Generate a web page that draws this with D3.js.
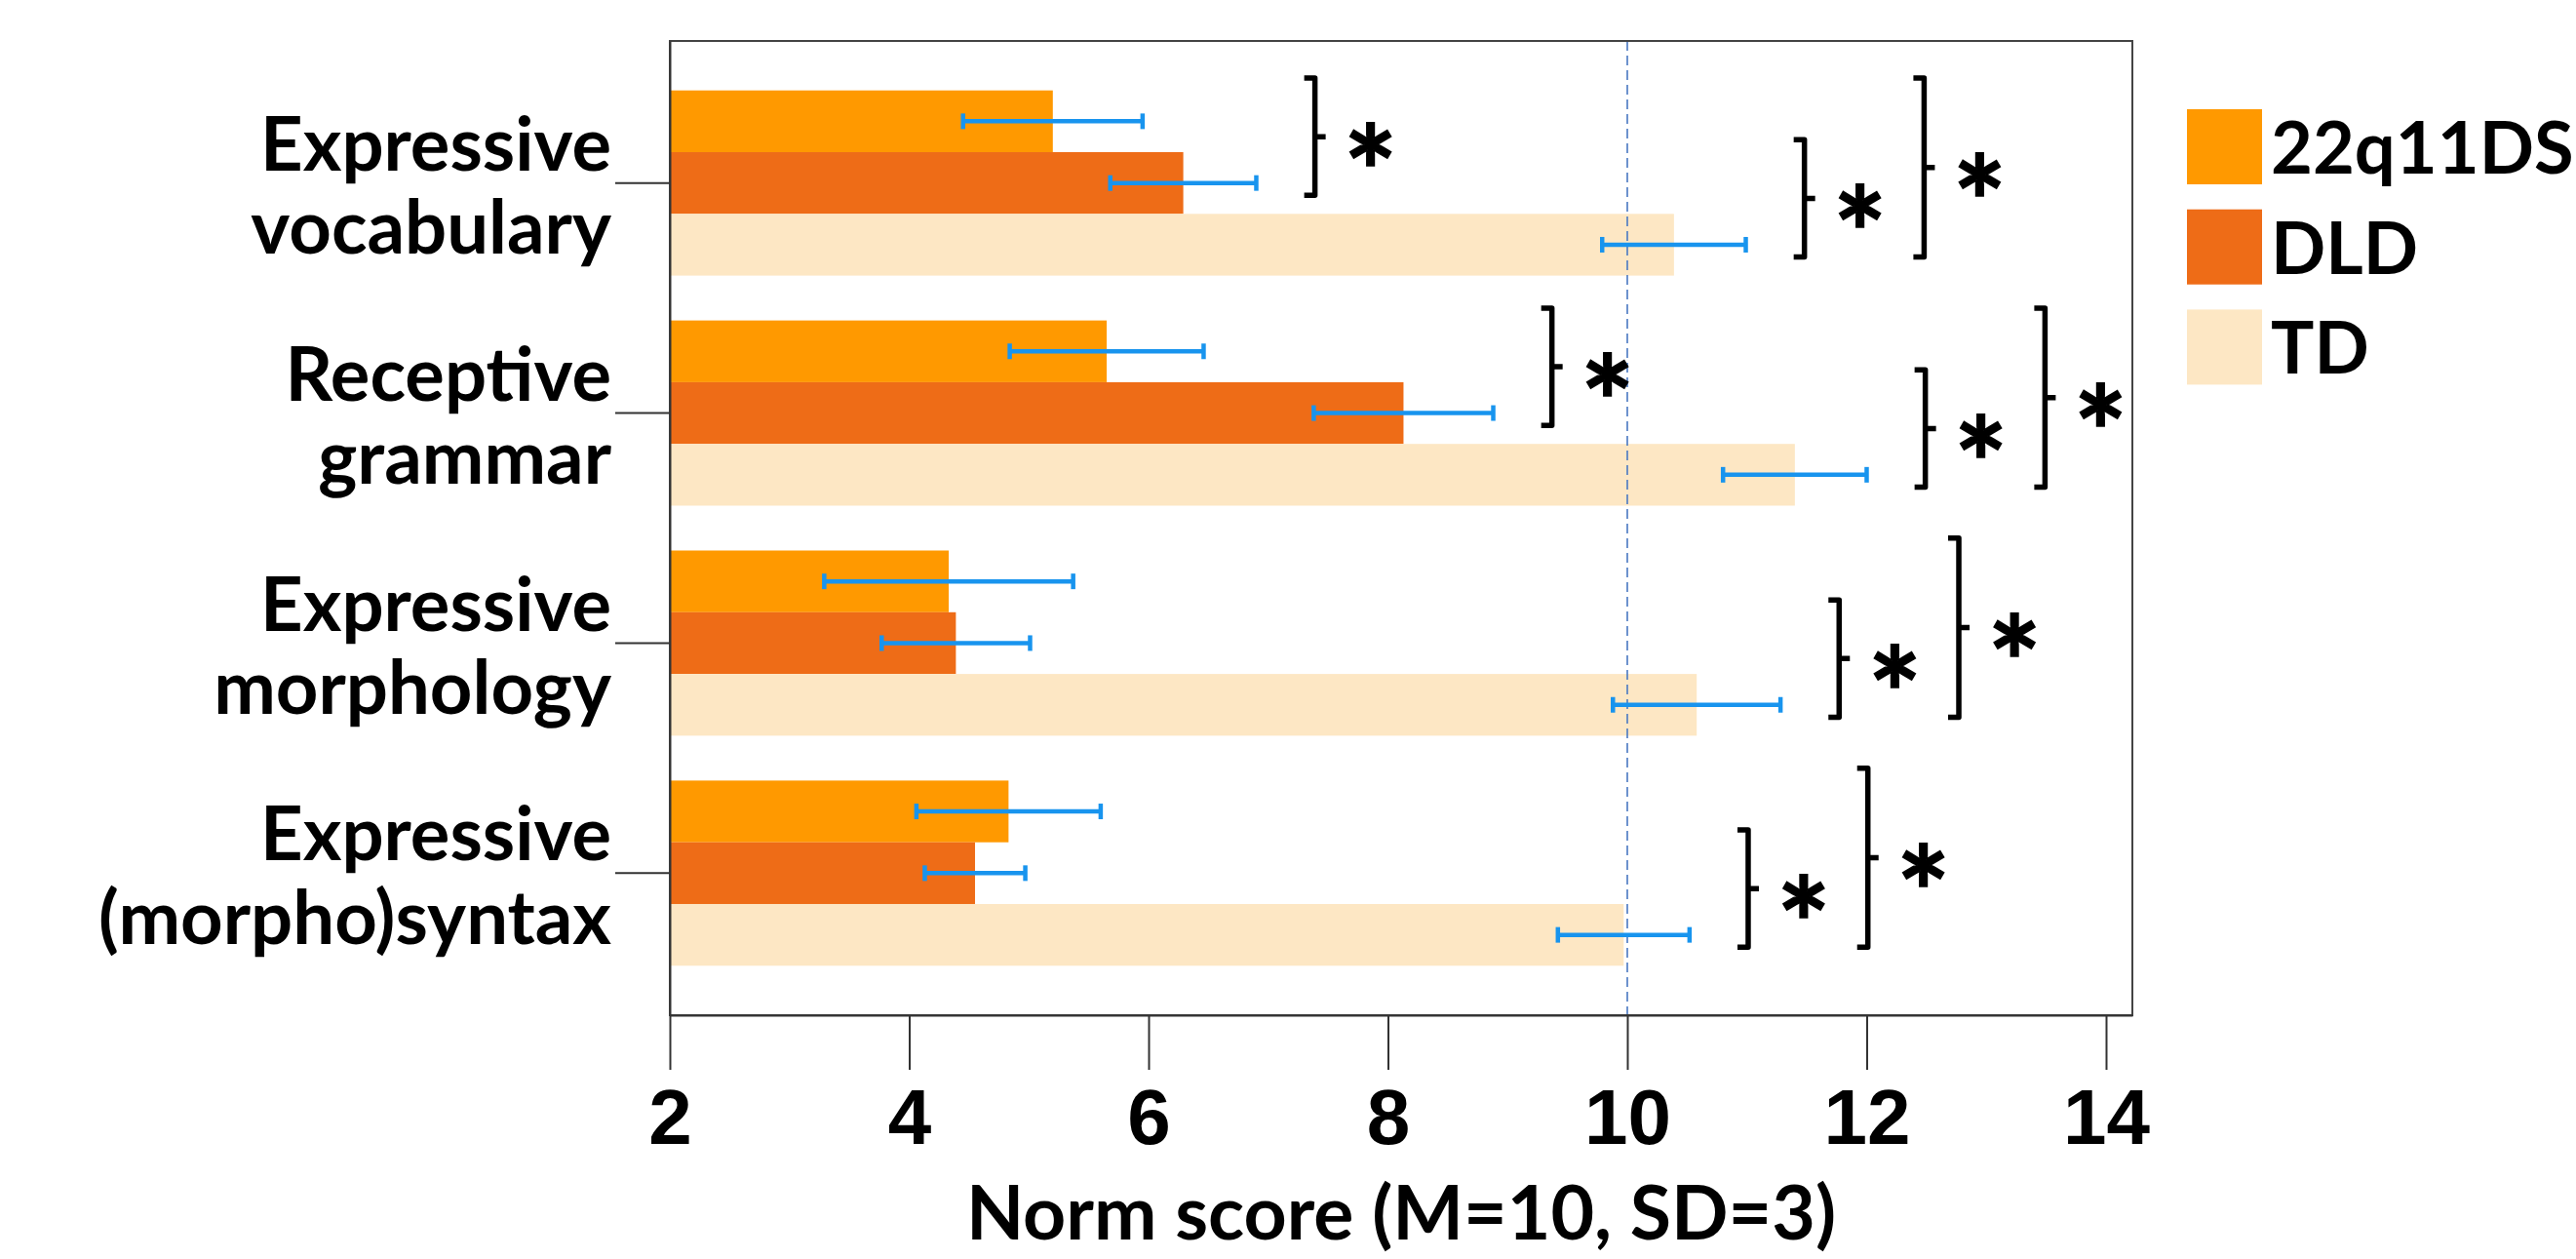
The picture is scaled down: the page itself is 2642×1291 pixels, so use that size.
<!DOCTYPE html>
<html>
<head>
<meta charset="utf-8">
<title>Norm scores by group</title>
<script src="https://cdn.jsdelivr.net/npm/d3@7"></script>
<style>
  body { margin: 0; background: #fff; }
  svg { display: block; font-family: Lato, "Open Sans", sans-serif; font-weight: 700; }
  .frame { fill: none; stroke: #444; stroke-width: 2; }
  .axis path, .axis line { stroke: #333; stroke-width: 2; }
  .axis text { fill: #000; font-size: 80px; font-weight: 700; }
  .err { stroke: #1894ee; stroke-width: 4.5; }
  .bracket { fill: none; stroke: #000; stroke-width: 5.5; stroke-linejoin: round; }
</style>
</head>
<body>
<script>
// data
const categories = ["Expressive vocabulary", "Receptive grammar", "Expressive morphology", "Expressive (morpho)syntax"];
const groups = ["22q11DS", "DLD", "TD"];
const mean22q = [5.20, 5.65, 4.33, 4.83];
const meanDLD = [6.29, 8.13, 4.39, 4.55];
const meanTD  = [10.39, 11.40, 10.58, 9.97];
const ci22q = [0.75, 0.81, 1.04, 0.77];
const ciDLD = [0.61, 0.75, 0.62, 0.42];
const ciTD  = [0.60, 0.60, 0.70, 0.55];
const xTicks = [2, 4, 6, 8, 10, 12, 14];
const normMean = 10;
// significant differences: [category index, group, group]
const sigPairs = [
    [0, "22q11DS", "DLD"], [0, "DLD", "TD"], [0, "22q11DS", "TD"],
    [1, "22q11DS", "DLD"], [1, "DLD", "TD"], [1, "22q11DS", "TD"],
    [2, "DLD", "TD"], [2, "22q11DS", "TD"],
    [3, "DLD", "TD"], [3, "22q11DS", "TD"]
];
const colors = ["#ff9900", "#ee6c17", "#fde7c4"];

const W = 2642, H = 1291;
const plot = {left: 687, right: 2187, top: 42, bottom: 1041};

const svg = d3.select("body").append("svg")
    .attr("width", W)
    .attr("height", H);

const x = d3.scaleLinear().domain([2, 14.22]).range([plot.left, plot.right]);
const y = d3.scaleBand().domain(categories)
    .range([plot.top, plot.bottom])
    .paddingInner(0.195)
    .paddingOuter(0.215);
const ySub = d3.scaleBand().domain(groups).range([0, y.bandwidth()]);
const color = d3.scaleOrdinal(groups, colors);

const means = {"22q11DS": mean22q, "DLD": meanDLD, "TD": meanTD};
const cis = {"22q11DS": ci22q, "DLD": ciDLD, "TD": ciTD};

const rows = [];
categories.forEach((c, i) => {
    groups.forEach(g => rows.push({cat: c, i: i, group: g, value: means[g][i], ci: cis[g][i]}));
});
const bh = ySub.bandwidth();
const yc = d => y(d.cat) + ySub(d.group) + bh / 2;

// bars
svg.append("g").selectAll("rect")
    .data(rows)
    .enter().append("rect")
    .attr("x", x(2))
    .attr("y", d => y(d.cat) + ySub(d.group))
    .attr("width", d => x(d.value) - x(2))
    .attr("height", bh)
    .attr("fill", d => color(d.group));

// reference line at the norm mean
svg.append("line")
    .attr("x1", x(normMean)).attr("x2", x(normMean))
    .attr("y1", plot.top).attr("y2", plot.bottom)
    .attr("stroke", "#4a78c2")
    .attr("stroke-width", 1.6)
    .attr("stroke-dasharray", "10,5");

// error bars
const eb = svg.append("g").selectAll("g")
    .data(rows)
    .enter().append("g");
eb.append("line").attr("class", "err")
    .attr("x1", d => x(d.value - d.ci)).attr("x2", d => x(d.value + d.ci))
    .attr("y1", yc).attr("y2", yc);
eb.append("line").attr("class", "err")
    .attr("x1", d => x(d.value - d.ci)).attr("x2", d => x(d.value - d.ci))
    .attr("y1", d => yc(d) - 8).attr("y2", d => yc(d) + 8);
eb.append("line").attr("class", "err")
    .attr("x1", d => x(d.value + d.ci)).attr("x2", d => x(d.value + d.ci))
    .attr("y1", d => yc(d) - 8).attr("y2", d => yc(d) + 8);

svg.append("rect").attr("class", "frame")
    .attr("x", plot.left).attr("y", plot.top)
    .attr("width", plot.right - plot.left)
    .attr("height", plot.bottom - plot.top);

// x axis
svg.append("g").attr("class", "axis")
    .attr("transform", "translate(0," + plot.bottom + ")")
    .call(d3.axisBottom(x).tickValues(xTicks).tickSize(56).tickSizeOuter(0).tickPadding(19));

// y axis, labels on two lines
svg.append("g").attr("class", "axis")
    .attr("transform", "translate(" + plot.left + ",0)")
    .call(d3.axisLeft(y).tickSize(56).tickSizeOuter(0).tickFormat(""));

const catLabel = svg.append("g").selectAll("text")
    .data(categories)
    .enter().append("text")
    .attr("text-anchor", "end")
    .attr("font-size", 76)
    .attr("y", d => y(d) + y.bandwidth() / 2);
catLabel.append("tspan")
    .attr("x", plot.left - 60)
    .attr("dy", "-0.17em")
    .text(d => d.slice(0, d.indexOf(" ")));
catLabel.append("tspan")
    .attr("x", plot.left - 60)
    .attr("dy", "1.12em")
    .text(d => d.slice(d.indexOf(" ") + 1));

// significance brackets
sigPairs.forEach(p => {
    const cat = categories[p[0]];
    const ia = groups.indexOf(p[1]), ib = groups.indexOf(p[2]);
    const ca = y(cat) + ySub(p[1]) + bh / 2;
    const cb = y(cat) + ySub(p[2]) + bh / 2;
    const ym = (ca + cb) / 2 - 0.25 * bh;
    const half = (cb - ca) / 2 + 0.45 * bh;
    let top = 0;
    for (let k = ia; k <= ib; k++) {
        const g = groups[k];
        top = Math.max(top, means[g][p[0]] + cis[g][p[0]]);
    }
    const bx = x(top + 0.49 + (ib - ia - 1) * 1.0);
    const y0 = ym - half, y1 = ym + half;
    svg.append("path").attr("class", "bracket")
        .attr("d", "M" + (bx - 11) + "," + y0 + "H" + bx + "V" + y1 + "H" + (bx - 11) +
            "M" + bx + "," + ym + "H" + (bx + 11));
    svg.append("text")
        .attr("x", bx + 57)
        .attr("y", ym + 0.65 * 130)
        .attr("text-anchor", "middle")
        .attr("font-size", 130)
        .attr("stroke", "#000")
        .attr("stroke-width", 1.5)
        .text("*");
});

// legend
const legend = svg.append("g").selectAll("g")
    .data(groups)
    .enter().append("g")
    .attr("transform", (d, i) => "translate(2243," + (112 + i * 102.7) + ")");
legend.append("rect")
    .attr("width", 77).attr("height", 77)
    .attr("fill", d => color(d));
legend.append("text")
    .attr("x", 86).attr("y", 66)
    .attr("font-size", 74)
    .text(d => d);

// axis title
svg.append("text")
    .attr("x", (plot.left + plot.right) / 2)
    .attr("y", 1271)
    .attr("text-anchor", "middle")
    .attr("font-size", 77)
    .text("Norm score (M=10, SD=3)");
</script>
</body>
</html>
